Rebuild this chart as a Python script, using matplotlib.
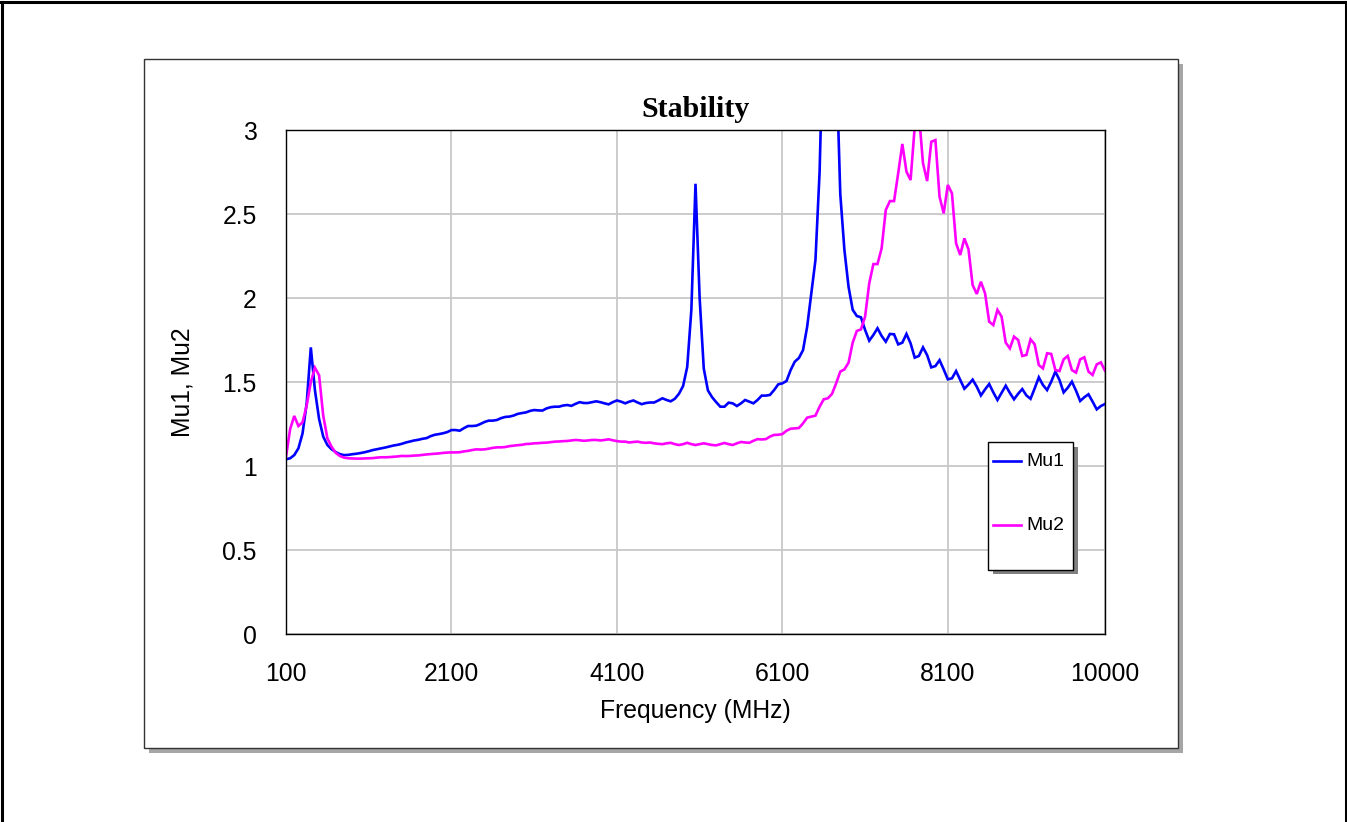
import numpy as np
import matplotlib
matplotlib.use("Agg")
import matplotlib.pyplot as plt
from matplotlib.patches import Rectangle
from matplotlib.lines import Line2D

# ---------------- data ----------------
freq_mhz = np.arange(100, 10001, 50)

mu1 = [
    # 100 - 950
    1.04, 1.046, 1.065, 1.105, 1.194, 1.373, 1.706, 1.45, 1.28, 1.175,
    1.125, 1.10, 1.083, 1.071, 1.065, 1.066, 1.07, 1.073,
    # 1000 - 1950
    1.077, 1.082, 1.088, 1.095, 1.10, 1.105, 1.11, 1.116, 1.122, 1.126,
    1.132, 1.14, 1.146, 1.152, 1.156, 1.162, 1.166, 1.178, 1.186, 1.19,
    # 2000 - 2950
    1.195, 1.202, 1.214, 1.214, 1.21, 1.225, 1.238, 1.238, 1.24, 1.25,
    1.262, 1.27, 1.27, 1.274, 1.285, 1.292, 1.294, 1.30, 1.31, 1.315,
    # 3000 - 3950
    1.319, 1.328, 1.333, 1.331, 1.33, 1.343, 1.35, 1.353, 1.353, 1.36,
    1.363, 1.358, 1.37, 1.38, 1.375, 1.375, 1.38, 1.385, 1.38, 1.373,
    # 4000 - 4950
    1.367, 1.38, 1.39, 1.383, 1.373, 1.383, 1.39, 1.378, 1.368, 1.375,
    1.378, 1.378, 1.39, 1.403, 1.393, 1.385, 1.40, 1.43, 1.476, 1.59,
    # 5000 - 5950
    1.93, 2.68, 2.0, 1.58, 1.45, 1.41, 1.38, 1.353, 1.353, 1.377,
    1.373, 1.357, 1.373, 1.393, 1.383, 1.373, 1.393, 1.419, 1.419, 1.423,
    # 6000 - 6950
    1.452, 1.486, 1.492, 1.506, 1.571, 1.621, 1.643, 1.69, 1.83, 2.03,
    2.226, 2.75, 3.7, 5.5, 4.8, 3.45, 2.62, 2.286, 2.067, 1.93,
    # 7000 - 7950
    1.893, 1.885, 1.81, 1.746, 1.78, 1.82, 1.774, 1.74, 1.786, 1.784,
    1.724, 1.734, 1.786, 1.73, 1.645, 1.655, 1.706, 1.66, 1.587, 1.595,
    # 8000 - 8950
    1.63, 1.575, 1.516, 1.522, 1.565, 1.512, 1.46, 1.485, 1.514, 1.472,
    1.42, 1.456, 1.488, 1.438, 1.393, 1.435, 1.478, 1.435, 1.397, 1.43,
    # 9000 - 9950
    1.458, 1.42, 1.40, 1.462, 1.528, 1.482, 1.452, 1.502, 1.562, 1.512,
    1.438, 1.466, 1.502, 1.448, 1.387, 1.409, 1.427, 1.383, 1.337, 1.357,
    # 10000
    1.369,
]

mu2 = [
    # 100 - 950
    1.055, 1.22, 1.298, 1.238, 1.26, 1.36, 1.50, 1.585, 1.54, 1.30,
    1.165, 1.115, 1.079, 1.06, 1.05, 1.046, 1.045, 1.044,
    # 1000 - 1950
    1.044, 1.045, 1.046, 1.047, 1.05, 1.052, 1.052, 1.053, 1.055, 1.057,
    1.06, 1.059, 1.06, 1.062, 1.063, 1.066, 1.069, 1.071, 1.073, 1.075,
    # 2000 - 2950
    1.078, 1.08, 1.081, 1.081, 1.082, 1.087, 1.09, 1.095, 1.099, 1.098,
    1.099, 1.103, 1.108, 1.111, 1.111, 1.113, 1.118, 1.121, 1.124, 1.126,
    # 3000 - 3950
    1.131, 1.132, 1.135, 1.136, 1.138, 1.139, 1.142, 1.145, 1.146, 1.148,
    1.149, 1.152, 1.155, 1.153, 1.15, 1.152, 1.155, 1.155, 1.152, 1.155,
    # 4000 - 4950
    1.159, 1.153, 1.148, 1.145, 1.145, 1.14, 1.143, 1.145, 1.14, 1.138,
    1.14, 1.135, 1.132, 1.13, 1.135, 1.138, 1.13, 1.125, 1.13, 1.138,
    # 5000 - 5950
    1.13, 1.125, 1.13, 1.135, 1.13, 1.125, 1.123, 1.13, 1.137, 1.13,
    1.125, 1.135, 1.143, 1.14, 1.138, 1.15, 1.16, 1.158, 1.16, 1.175,
    # 6000 - 6950
    1.185, 1.186, 1.19, 1.21, 1.222, 1.224, 1.226, 1.254, 1.288, 1.294,
    1.30, 1.353, 1.397, 1.403, 1.429, 1.492, 1.562, 1.575, 1.615, 1.734,
    # 7000 - 7950
    1.804, 1.813, 1.889, 2.087, 2.202, 2.202, 2.296, 2.524, 2.577, 2.577,
    2.742, 2.917, 2.752, 2.702, 3.02, 3.1, 2.802, 2.696, 2.93, 2.94,
    # 8000 - 8950
    2.603, 2.504, 2.673, 2.623, 2.325, 2.256, 2.355, 2.29, 2.077, 2.024,
    2.097, 2.028, 1.859, 1.839, 1.929, 1.889, 1.734, 1.70, 1.77, 1.75,
    # 9000 - 9950
    1.655, 1.661, 1.754, 1.724, 1.601, 1.581, 1.671, 1.667, 1.571, 1.565,
    1.635, 1.655, 1.571, 1.556, 1.635, 1.647, 1.562, 1.542, 1.605, 1.617,
    # 10000
    1.567,
]

series_names = ["Mu1", "Mu2"]
series_colors = ["#0000FF", "#FF00FF"]
x_ticks = [100, 2100, 4100, 6100, 8100, 10000]
y_ticks = [0, 0.5, 1, 1.5, 2, 2.5, 3]
y_tick_labels = ["0", "0.5", "1", "1.5", "2", "2.5", "3"]
title = "Stability"
x_label = "Frequency (MHz)"
y_label = "Mu1, Mu2"

# ---------------- figure ----------------
W, H = 1347, 822
fig = plt.figure(figsize=(W / 100, H / 100), dpi=100)
fig.patch.set_facecolor("white")


def fx(px):
    return px / W


def fy(py):
    return 1 - py / H


# outer frame (left, top, right)
fig.add_artist(Line2D([fx(1.5), fx(1.5)], [fy(2), 0], color="black", lw=2.2, transform=fig.transFigure))
fig.add_artist(Line2D([fx(0), fx(1347)], [fy(2.5), fy(2.5)], color="black", lw=2.2, transform=fig.transFigure))
fig.add_artist(Line2D([fx(1345.5), fx(1345.5)], [fy(2), 0], color="black", lw=2.2, transform=fig.transFigure))

# chart panel with shadow
pl, pt, pr, pb = 144, 59.5, 1177.5, 747.5
fig.add_artist(Rectangle((fx(pl + 5), fy(pb + 5)), fx(pr - pl), (pb - pt) / H,
                         transform=fig.transFigure, facecolor="#a6a6a6", edgecolor="none", zorder=0))
fig.add_artist(Rectangle((fx(pl), fy(pb)), fx(pr - pl), (pb - pt) / H,
                         transform=fig.transFigure, facecolor="white", edgecolor="#333333", lw=1.0, zorder=0.5))

# axes
al, at, ar, ab = 286, 130, 1105, 634
ax = fig.add_axes([fx(al), fy(ab), fx(ar - al), (ab - at) / H])
ax.set_facecolor("white")
ax.set_zorder(1)

for vals, name, col in zip([mu1, mu2], series_names, series_colors):
    ax.plot(freq_mhz, vals, color=col, lw=1.9, label=name, solid_joinstyle="miter", zorder=3)

ax.set_xlim(100, 10000)
ax.set_ylim(0, 3)
ax.set_xticks(x_ticks)
ax.set_xticklabels([str(t) for t in x_ticks])
ax.set_yticks(y_ticks)
ax.set_yticklabels(y_tick_labels)
ax.grid(True, color="#c8c8c8", lw=1.3, zorder=0)
ax.set_axisbelow(True)
for s in ax.spines.values():
    s.set_color("black")
    s.set_linewidth(1.0)
    s.set_zorder(4)

tick_font = dict(family=["Liberation Sans", "DejaVu Sans"], size=17.8)
ax.tick_params(axis="both", length=0)
ax.tick_params(axis="x", pad=20.5)
ax.tick_params(axis="y", pad=21)
for lab in ax.get_xticklabels() + ax.get_yticklabels():
    lab.set_fontfamily(tick_font["family"])
    lab.set_fontsize(tick_font["size"])

ax.set_xlabel(x_label, fontfamily=tick_font["family"], fontsize=17.8)
ax.xaxis.set_label_coords(0.5, -0.128)
ax.set_ylabel(y_label, fontfamily=tick_font["family"], fontsize=17.8, va="center")
ax.yaxis.set_label_coords(-0.1265, 0.5)

ax.set_title(title, fontfamily=["Liberation Serif", "DejaVu Serif"], fontweight="bold",
             fontsize=21.5, y=(634 - 110) / 504, va="center", pad=0)

# legend (drawn manually to match the boxed legend with shadow)
ll, lt, lr, lb = 987.5, 442, 1073, 569.5
fig.add_artist(Rectangle((fx(ll + 5), fy(lb + 5)), fx(lr - ll), (lb - lt) / H,
                         transform=fig.transFigure, facecolor="#808080", edgecolor="none", zorder=5))
fig.add_artist(Rectangle((fx(ll), fy(lb)), fx(lr - ll), (lb - lt) / H,
                         transform=fig.transFigure, facecolor="white", edgecolor="black", lw=1.0, zorder=6))
for i, (name, col) in enumerate(zip(series_names, series_colors)):
    yy = 461 + i * 64
    fig.add_artist(Line2D([fx(993), fx(1021)], [fy(yy), fy(yy)], color=col, lw=1.9,
                          transform=fig.transFigure, zorder=7))
    fig.text(fx(1026), fy(yy), name, fontfamily=tick_font["family"], fontsize=14,
             ha="left", va="center", zorder=7)

fig.savefig("out.png", dpi=100, facecolor="white")
